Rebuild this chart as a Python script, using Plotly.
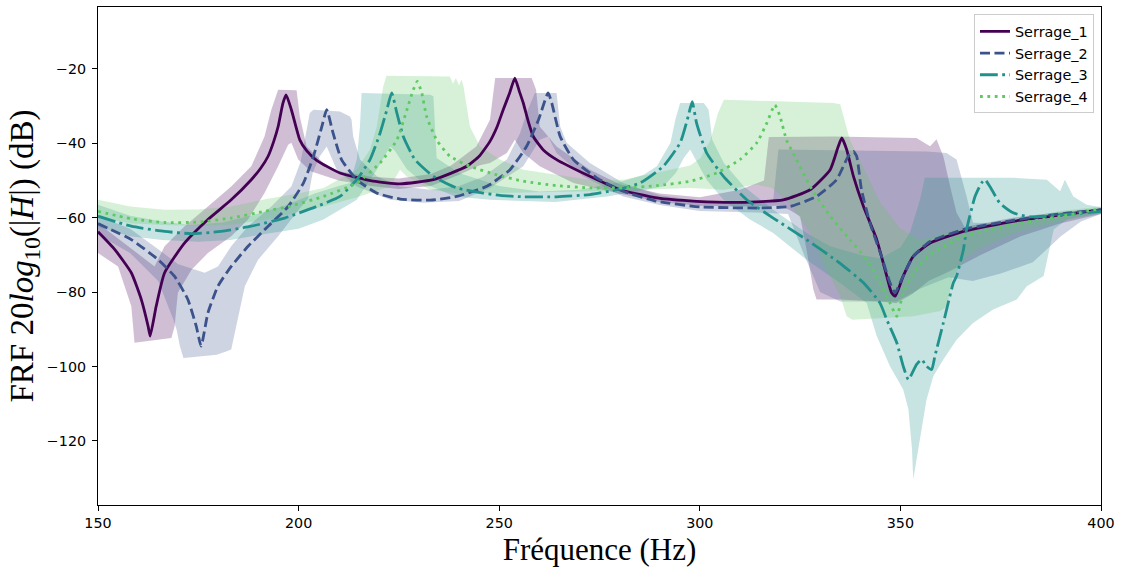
import plotly.graph_objects as go

# ---------------- data ----------------
series_names = ["Serrage_1", "Serrage_2", "Serrage_3", "Serrage_4"]

# Serrage_1 mean curve
s1_f = [150.0, 154.2, 158.3, 160.8, 162.5, 163.0, 164.5, 166.6, 171.6, 177.4, 183.2, 188.2, 190.5, 192.4,
        193.8, 194.9, 196.1, 196.9, 198.2, 200.3, 202.0, 204.5, 210.3, 218.6, 225.3, 233.6, 241.9, 245.0,
        247.7, 249.5, 251.0, 252.6, 253.9, 255.0, 256.0, 257.2, 258.5, 261.0, 264.3, 272.6, 280.1, 289.3,
        299.2, 310.0, 320.8, 327.5, 332.5, 334.5, 335.4, 336.6, 338.3, 340.8, 344.1, 346.6, 347.8, 348.7,
        350.7, 353.2, 357.4, 365.7, 378.1, 390.6, 400.0]
s1_db = [-63.8, -68.6, -74.8, -82.0, -89.2, -91.8, -83.8, -74.8, -66.8, -60.5, -55.2, -49.8, -46.8, -43.5,
         -39.5, -35.5, -29.2, -27.0, -31.0, -39.1, -42.0, -44.6, -48.0, -50.2, -50.9, -49.8, -46.2, -43.5,
         -39.5, -35.5, -31.0, -26.5, -22.5, -26.0, -29.2, -34.0, -38.2, -41.8, -44.4, -48.9, -52.5, -54.7,
         -55.6, -55.9, -55.2, -52.5, -47.1, -40.9, -38.6, -41.7, -48.9, -57.0, -65.9, -75.7, -80.2, -81.1,
         -75.7, -70.4, -66.8, -63.7, -61.0, -59.2, -57.9]
s1_up_f = [150, 157, 164.1, 166.6, 171.6, 177.4, 183.2, 188.2, 191.5, 193.2, 194.9, 199.5, 200.3, 202.0,
           206.2, 210, 218, 225, 233, 238, 244.3, 247.7, 249.0, 258.1, 259.2, 260.1, 264.3, 272.6, 280,
           290, 300, 310, 316, 317.2, 333.3, 354.0, 357.4, 359.0, 360.7, 362.4, 364.0, 366, 378, 390, 400]
s1_up_db = [-61.5, -67.3, -73.1, -67.7, -62.3, -57.0, -51.6, -46.2, -38.2, -31.0, -25.6, -25.8, -32.8, -40.9,
            -45.3, -47.5, -49.0, -49.5, -48.3, -46.0, -40.9, -33.7, -22.5, -22.5, -25.6, -35.5, -40.9, -47.1, -51.0,
            -53.5, -54.5, -52.5, -50.0, -38.3, -38.2, -38.6, -40.8, -38.9, -43.5, -51.6, -58.7, -62.5, -60.0, -58.5, -57.5]
s1_lo_f = [150, 155, 158.3, 159.1, 163, 168.3, 169.1, 169.9, 173.3, 177.4, 183.2, 187.4, 191.5, 194.9,
           197.4, 198.2, 199.9, 203, 210, 218, 225, 233, 240, 245, 247.7, 251.9, 253.9, 256.0, 260.1,
           268.5, 279.3, 290, 300, 310, 320, 322.5, 325, 326.6, 328.3, 329.1, 335, 345, 349, 353, 357,
           362, 370, 380, 390, 400]
s1_lo_db = [-69.5, -73.1, -83.8, -93.6, -93.0, -92.3, -89.2, -80.2, -74.0, -69.5, -65.0, -60.5, -53.4, -46.2,
            -40.4, -39.9, -44.4, -47.5, -50.0, -51.5, -52.3, -51.5, -48.5, -46.0, -45.3, -42.6, -39.1, -42.6, -46.2,
            -50.7, -53.4, -55.8, -56.8, -57.0, -56.8, -58.0, -59.6, -68.6, -79.3, -82.0, -82.0, -82.5, -83.0, -80.5, -77.0,
            -74.5, -70.0, -65.0, -61.5, -59.0]

# Serrage_2
s2_f = [150.0, 158.3, 165.0, 169.1, 172.4, 174.5, 175.7, 177.4, 179.9, 183.2, 187.4, 192.4, 197.4, 201.2,
        203.7, 205.8, 207.0, 208.6, 210.7, 214.5, 219.5, 225.3, 232.8, 239.4, 246.0, 247.7, 252.7, 256.8,
        259.8, 262.2, 263.1, 265.2, 268.5, 274.3, 280.9, 289.3, 300.1, 314.2, 322.5, 329.1, 334.1, 337.0,
        338.3, 339.1, 340.3, 342.4, 345.3, 347.4, 348.7, 349.9, 353.2, 357.4, 365.7, 378.1, 390.6, 400.0]
s2_db = [-61.6, -65.9, -71.3, -75.8, -82.0, -89.2, -94.5, -85.6, -78.4, -73.1, -67.7, -62.3, -57.0, -50.7,
         -43.5, -35.5, -31.0, -37.3, -44.4, -49.8, -53.4, -55.0, -55.3, -54.3, -52.0, -51.1, -47.1, -40.9,
         -33.7, -26.5, -29.2, -38.2, -44.4, -49.3, -52.9, -55.6, -57.1, -57.4, -57.0, -54.3, -49.8, -43.5,
         -42.2, -43.5, -52.5, -61.4, -70.4, -77.5, -80.2, -77.5, -70.4, -66.4, -63.2, -60.7, -58.9, -57.9]
s2_up_f = [150, 158, 165, 170, 176.6, 179.9, 183.2, 187.4, 193.2, 198.2, 200.5, 202.8, 203.7, 210.3, 212.8,
           213.2, 213.6, 215.3, 219.5, 225.3, 233, 240, 246, 251.9, 255.2, 256.8, 258.9, 264.3, 265.2, 266.8,
           272.6, 280.9, 290, 300, 310, 318.3, 319.6, 356.5, 361.5, 364.0, 366.5, 368.1, 375, 385, 400]
s2_up_db = [-59.5, -63.0, -68.5, -72.5, -74.8, -73.1, -67.7, -62.3, -57.0, -51.6, -45.0, -31.9, -31.0, -31.5, -32.8,
            -33.7, -38.2, -44.4, -48.9, -51.6, -52.5, -51.5, -49.0, -44.4, -37.3, -31.9, -26.5, -26.5, -35.5, -39.9,
            -45.3, -50.7, -54.0, -55.5, -56.0, -55.2, -41.7, -42.2, -42.6, -44.4, -54.3, -61.4, -61.5, -59.8, -57.5]
s2_lo_f = [150, 158, 165, 168.8, 169.6, 170.4, 171.3, 179.6, 182.1, 183.2, 184.9, 186.6, 189.9, 194.9,
           200.3, 202.3, 203.5, 205.3, 207.0, 209.5, 214.5, 222.8, 231.1, 240, 247.7, 256.0, 260.1, 262.2,
           264.3, 270.9, 280.9, 290, 300, 314, 322, 326, 330, 335, 349, 355, 362, 368, 375, 383, 390, 395, 400]
s2_lo_db = [-64.5, -69.5, -77.0, -87.4, -90.1, -94.5, -97.7, -96.8, -95.9, -95.4, -87.4, -78.4, -71.3, -65.0,
            -57.5, -55.0, -48.0, -43.5, -40.9, -47.1, -51.6, -55.2, -56.0, -55.5, -52.0, -46.2, -39.1, -38.2,
            -42.6, -48.9, -54.3, -56.6, -58.2, -58.6, -59.0, -70.0, -80.0, -82.5, -82.5, -79.0, -76.0, -77.0,
            -75.0, -72.0, -65.0, -61.0, -59.0]

# Serrage_3
s3_f = [150.0, 158.3, 166.6, 173.3, 180.7, 188.2, 196.5, 204.5, 210.3, 214.5, 217.8, 220.3, 222.0, 223.2,
        224.5, 226.1, 229.0, 233.6, 239.4, 246.0, 250.2, 256.0, 264.3, 272.6, 279.3, 285.1, 290.9, 295.1,
        297.1, 298.1, 299.2, 301.7, 305.9, 311.7, 318.3, 326.6, 334.9, 340.8, 344.9, 346.6, 349.1, 350.7,
        352.0, 354.0, 355.3, 356.5, 357.8, 358.6, 360.7, 363.2, 364.0, 365.7, 366.5, 368.6, 370.2, 371.1,
        372.3, 374.8, 378.1, 382.3, 390.6, 400.0]
s3_db = [-59.6, -62.3, -63.7, -64.3, -63.7, -62.3, -60.1, -57.0, -54.3, -49.8, -44.4, -37.3, -31.0, -26.5,
         -31.9, -38.2, -44.4, -48.9, -52.0, -53.4, -54.0, -54.4, -54.4, -53.8, -52.5, -50.7, -46.2, -39.9,
         -32.8, -28.8, -34.6, -42.6, -48.9, -55.2, -60.1, -65.9, -72.2, -77.5, -82.9, -87.4, -93.6, -99.9,
         -103.5, -99.5, -98.1, -99.9, -100.8, -97.2, -88.3, -77.5, -75.7, -68.6, -63.2, -54.3, -50.7, -49.8,
         -51.6, -56.1, -58.7, -59.8, -59.2, -58.3]
s3_up_f = [150, 158, 166, 173, 181, 188, 196, 204, 210, 212.8, 214.5, 215.3, 215.7, 232.8, 233.6, 234.4,
           240, 250, 260, 270, 280, 286, 289.3, 292.7, 293.9, 295.1, 301.0, 302.2, 303.1, 306.0, 311.0,
           318.3, 326.6, 332.5, 340, 345, 350, 352.4, 354.9, 356.1, 378.1, 386.5, 389.8, 391.0, 393.1,
           396.4, 400]
s3_up_db = [-56.5, -59.5, -61.0, -62.0, -61.3, -59.5, -57.0, -53.5, -51.5, -50.7, -44.4, -35.5, -26.5, -27.0,
            -27.4, -44.0, -48.0, -51.5, -53.0, -52.5, -50.5, -48.5, -46.2, -39.9, -33.7, -29.2, -29.2, -31.0,
            -39.1, -45.3, -51.6, -57.9, -64.1, -67.7, -70.0, -71.0, -68.0, -64.0, -55.2, -49.3, -49.3, -49.8,
            -52.9, -49.8, -54.3, -56.5, -57.2]
s3_lo_f = [150, 158, 166, 175, 183, 192, 200, 206.2, 214.5, 219.5, 222.8, 224, 227, 231.1, 239, 247.7,
           264, 276.8, 285.1, 290.9, 294, 296, 297.6, 301.7, 305.9, 312.5, 318.3, 326.6, 334.9, 341.6,
           344.1, 347.4, 350.7, 352.0, 352.9, 353.2, 354.1, 355.3, 356.5, 358.2, 360.7, 364.0, 368.1,
           373.1, 379.0, 381.5, 385.7, 388.2, 391.5, 400]
s3_lo_db = [-62.5, -65.0, -66.0, -66.5, -66.0, -64.3, -63.0, -60.5, -55.2, -47.1, -40.9, -42.0, -47.0, -50.7,
            -54.3, -55.2, -55.8, -54.3, -52.8, -51.6, -48.0, -44.0, -41.7, -49.8, -55.2, -60.5, -64.1, -71.3,
            -77.5, -82.9, -91.8, -99.9, -106.2, -111.5, -122.3, -130.3, -124.1, -116.9, -108.9, -102.6, -98.1,
            -92.8, -88.3, -84.7, -82.0, -78.4, -75.7, -63.2, -60.5, -58.8]

# Serrage_4
s4_f = [150.0, 158.3, 166.6, 174.9, 183.2, 191.5, 197.9, 206.2, 214.5, 220.3, 224.5, 227.0, 228.6, 229.6,
        230.7, 231.9, 234.4, 237.7, 242.7, 249.4, 256.0, 264.3, 272.6, 280.9, 289.3, 297.6, 304.2, 310.0,
        314.2, 316.7, 318.7, 320.0, 321.6, 324.1, 327.5, 332.5, 337.4, 341.6, 344.9, 347.4, 349.1, 350.7,
        353.2, 357.4, 365.7, 378.1, 390.6, 400.0]
s4_db = [-58.3, -60.3, -61.3, -61.2, -60.1, -58.3, -56.9, -54.3, -50.7, -45.3, -39.1, -31.0, -25.6, -23.4,
         -26.5, -32.8, -39.1, -43.5, -46.2, -48.5, -50.2, -51.4, -52.0, -52.0, -51.4, -50.2, -48.0, -44.4,
         -39.9, -34.6, -29.7, -32.8, -39.1, -44.4, -51.6, -59.6, -65.9, -71.3, -77.5, -82.9, -86.5, -80.2,
         -74.8, -69.9, -65.0, -61.9, -59.5, -57.6]
s4_up_f = [150, 158, 166.6, 175, 183.2, 192, 199.9, 206.2, 214.5, 217.8, 219.5, 221.1, 221.9, 237.7, 238.5,
           239.2, 240, 240.6, 241.1, 242.7, 245.2, 250.2, 256, 272.6, 281, 289.3, 297.6, 300.2, 302.7,
           304.5, 306, 333.3, 335, 337.4, 340, 345, 350, 355, 365, 380, 390, 400]
s4_up_db = [-55.2, -57.0, -57.9, -57.8, -57.0, -55.0, -53.5, -52.0, -47.1, -41.7, -35.5, -24.7, -21.9, -22.1, -24.0,
            -22.5, -24.5, -22.9, -24.7, -35.5, -40.9, -44.4, -47.1, -49.8, -49.8, -48.0, -46.0, -44.0, -39.1,
            -32.0, -28.3, -29.2, -29.5, -39.1, -45.0, -56.0, -63.0, -66.0, -63.0, -60.0, -58.2, -57.0]
s4_lo_f = [150, 158, 166.6, 175, 183.2, 192, 199.9, 206.2, 214.5, 222.8, 225.3, 226.9, 232.8, 240, 256,
           280, 297.6, 306, 314.2, 318, 322, 324.1, 327.5, 330.8, 335, 336.6, 338, 353.2, 359.9, 361.6,
           363, 366, 370, 380, 390, 400]
s4_lo_db = [-59.8, -61.5, -62.0, -62.2, -61.9, -60.5, -58.5, -57.0, -54.5, -51.6, -47.1, -48.9, -52.5, -53.5,
            -53.2, -52.8, -52.0, -52.5, -51.1, -52.0, -55.5, -58.7, -64.1, -72.2, -81.1, -86.5, -87.4, -86.5,
            -85.1, -83.8, -76.0, -71.0, -68.0, -63.5, -61.0, -58.5]

x_ticks = [150, 200, 250, 300, 350, 400]
y_ticks = [-120, -100, -80, -60, -40, -20]

# ---------------- styling ----------------
colors = ["#440154", "#3b528b", "#21918c", "#5ec962"]
fills = ["rgba(68,1,84,0.25)", "rgba(59,82,139,0.25)", "rgba(33,145,140,0.25)", "rgba(94,201,98,0.25)"]
dashes = ["solid", "10px,4.5px", "17.8px,4.4px,2.8px,4.4px", "2.8px,4.6px"]

lines = [(s1_f, s1_db), (s2_f, s2_db), (s3_f, s3_db), (s4_f, s4_db)]
bands = [(s1_up_f, s1_up_db, s1_lo_f, s1_lo_db), (s2_up_f, s2_up_db, s2_lo_f, s2_lo_db),
         (s3_up_f, s3_up_db, s3_lo_f, s3_lo_db), (s4_up_f, s4_up_db, s4_lo_f, s4_lo_db)]

fig = go.Figure()
for i, (uf, ud, lf, ld) in enumerate(bands):
    fig.add_trace(go.Scatter(
        x=list(uf) + list(lf)[::-1], y=list(ud) + list(ld)[::-1],
        mode="lines", fill="toself", fillcolor=fills[i], line=dict(width=0),
        hoverinfo="skip", showlegend=False))
for i, (f, d) in enumerate(lines):
    fig.add_trace(go.Scatter(
        x=f, y=d, mode="lines", name=series_names[i],
        line=dict(color=colors[i], width=2.8, dash=dashes[i], shape="spline", smoothing=0.5)))

tick_font = dict(family="DejaVu Sans", size=14.3, color="black")
x_title_font = dict(family="Liberation Serif", size=31, color="black")
y_title_font = dict(family="Liberation Serif", size=33, color="black")

fig.update_layout(
    width=1121, height=568,
    margin=dict(l=98, r=20, t=7, b=63),
    paper_bgcolor="white", plot_bgcolor="white",
    showlegend=True,
    legend=dict(x=0.993, y=0.985, xanchor="right", yanchor="top",
                bgcolor="rgba(255,255,255,0.8)", bordercolor="#cccccc", borderwidth=1,
                font=dict(family="DejaVu Sans", size=14.4, color="black"),
                itemwidth=30, tracegroupgap=0),
    xaxis=dict(range=[150, 400], tickvals=x_ticks, ticks="outside", ticklen=5, tickwidth=1,
               tickcolor="black", showline=True, linecolor="black", linewidth=1, mirror=True,
               showgrid=False, zeroline=False, tickfont=tick_font, automargin=False,
               ticklabeloverflow="allow",
               title=dict(text="Fréquence (Hz)", font=x_title_font, standoff=8)),
    yaxis=dict(range=[-137.2, -3.4], tickvals=y_ticks, ticks="outside", ticklen=5, tickwidth=1,
               tickcolor="black", showline=True, linecolor="black", linewidth=1, mirror=True,
               showgrid=False, zeroline=False, tickfont=tick_font, automargin=False,
               ticklabelstandoff=3,
               title=dict(text="FRF 20<i>log</i><sub>10</sub>(|<i>H</i>|) (dB)", font=y_title_font, standoff=3)),
)

# remove the default 8px page margin so the figure sits at the window's corner
fig.write_html("out.html", config={"displayModeBar": False},
               post_script="document.body.style.margin='0';")
